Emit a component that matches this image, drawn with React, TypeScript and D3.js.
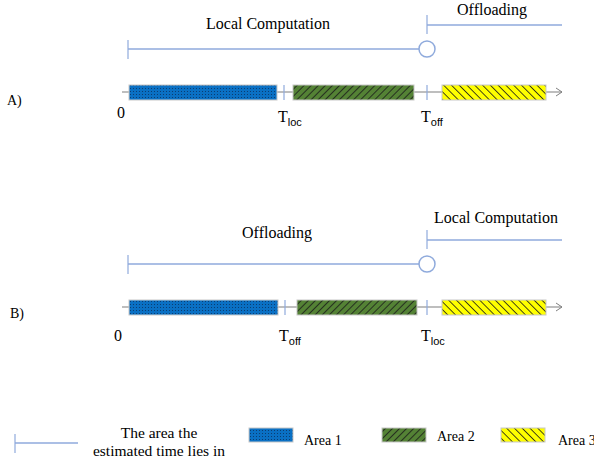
import React from "react";
import * as d3 from "d3";

// ---- data ----
const panelLabels = ["A)", "B)"];
const leftLabels = ["Local Computation", "Offloading"];
const rightLabels = ["Offloading", "Local Computation"];
const thresholdSubs = [["loc", "off"], ["off", "loc"]];
const thresholdsA = [162, 305];
const thresholdsB = [163, 305];
const areaStartsA = [7, 171, 320];
const areaEndsA = [155, 292, 424];
const areaStartsB = [7, 175, 320];
const areaEndsB = [156, 295, 424];
const areaNames = ["Area 1", "Area 2", "Area 3"];
const axisMax = 440;
const legendText = ["The area the", "estimated time lies in"];

const W = 594;
const H = 464;
const FONT = "'Liberation Serif', 'Times New Roman', serif";
const LINE = "#8faadc";
const AXIS = "#7f7f7f";
const BORDER = "#c8c8c8";
const patternIds = ["pDots", "pGreen", "pYellow"];

const x = d3.scaleLinear().domain([0, axisMax]).range([122, 562]);

function Panel({ idx, oy }: { idx: number; oy: number }) {
  const th = idx === 0 ? thresholdsA : thresholdsB;
  const starts = idx === 0 ? areaStartsA : areaStartsB;
  const ends = idx === 0 ? areaEndsA : areaEndsB;
  const axisY = oy + 92;
  const circY = oy + 49;
  const brY = oy + 25;
  const xs = x(starts[0]) - 1;
  const xc = x(th[1]);
  return (
    <g>
      {/* top labels */}
      <text x={268 + (idx === 1 ? 9 : 0)} y={oy + (idx === 0 ? 29 : 23)} textAnchor="middle" fontSize={16} fontFamily={FONT}>
        {leftLabels[idx]}
      </text>
      <text x={idx === 0 ? 492 : 496} y={oy + (idx === 0 ? 15 : 8)} textAnchor="middle" fontSize={16} fontFamily={FONT}>
        {rightLabels[idx]}
      </text>
      {/* left range bracket */}
      <line x1={xs} x2={xs} y1={circY - 9} y2={circY + 10} stroke={LINE} strokeWidth={1.2} />
      <line x1={xs} x2={xc - 8} y1={circY} y2={circY} stroke={LINE} strokeWidth={1.5} />
      <circle cx={xc} cy={circY} r={8} fill="#fff" stroke={LINE} strokeWidth={1.5} />
      {/* right range bracket */}
      <line x1={xc} x2={xc} y1={brY - 10} y2={brY + 9} stroke={LINE} strokeWidth={1.2} />
      <line x1={xc} x2={x(axisMax)} y1={brY} y2={brY} stroke={LINE} strokeWidth={1.5} />
      {/* axis */}
      <line x1={x(0)} x2={x(axisMax)} y1={axisY} y2={axisY} stroke={AXIS} strokeWidth={1.2} />
      <path
        d={`M${x(axisMax) - 6},${axisY - 4} L${x(axisMax)},${axisY} L${x(axisMax) - 6},${axisY + 4}`}
        fill="none"
        stroke={AXIS}
        strokeWidth={1}
      />
      {th.map((t, i) => (
        <line key={i} x1={x(t)} x2={x(t)} y1={axisY - 7} y2={axisY + 8} stroke={LINE} strokeWidth={1.2} />
      ))}
      {starts.map((s, i) => (
        <rect
          key={i}
          x={x(s)}
          y={axisY - 7}
          width={x(ends[i]) - x(s)}
          height={15}
          fill={`url(#${patternIds[i]})`}
          stroke={BORDER}
          strokeWidth={1}
        />
      ))}
      {/* labels */}
      <text x={7 + idx * 3} y={axisY + 13 - idx * 2} fontSize={14} fontFamily={FONT}>
        {panelLabels[idx]}
      </text>
      <text x={x(0) - 1 - idx * 3} y={axisY + 26 + idx * 8} textAnchor="middle" fontSize={16} fontFamily={FONT}>
        0
      </text>
      {th.map((t, i) => (
        <text key={i} x={x(t) - 6} y={axisY + 30 + idx * 4} fontSize={16} fontFamily={FONT}>
          T
          <tspan dy={4} fontSize={11} fontFamily="'Liberation Sans', Arial, sans-serif">
            {thresholdSubs[idx][i]}
          </tspan>
        </text>
      ))}
    </g>
  );
}

export default function App() {
  const legendRects = [249, 382, 501];
  const legendLabelX = [304, 437, 558];
  const legendLabelY = [445, 441, 445];
  return (
    <svg width={W} height={H} style={{ position: "absolute", left: 0, top: 0, background: "#fff" }}>
      <defs>
        <pattern id="pDots" width={3} height={3} patternUnits="userSpaceOnUse">
          <rect width={3} height={3} fill="#0a70c4" />
          <rect x={1} y={1} width={1} height={1} fill="#0b3e73" />
        </pattern>
        <pattern id="pGreen" width={5} height={5} patternUnits="userSpaceOnUse" patternTransform="rotate(45)">
          <rect width={5} height={5} fill="#548235" />
          <line x1={0} y1={0} x2={0} y2={5} stroke="#1a1a1a" strokeWidth={1.6} />
        </pattern>
        <pattern id="pYellow" width={5.5} height={5.5} patternUnits="userSpaceOnUse" patternTransform="rotate(-45)">
          <rect width={5.5} height={5.5} fill="#ffff00" />
          <line x1={0} y1={0} x2={0} y2={5.5} stroke="#1a1a1a" strokeWidth={1.6} />
        </pattern>
      </defs>
      <rect width={W} height={H} fill="#fff" />
      <Panel idx={0} oy={0} />
      <Panel idx={1} oy={215} />
      {/* legend */}
      <line x1={15} x2={15} y1={434} y2={453} stroke={LINE} strokeWidth={1.2} />
      <line x1={15} x2={78} y1={443} y2={443} stroke={LINE} strokeWidth={1.5} />
      <text x={159} y={438} textAnchor="middle" fontSize={15.5} fontFamily={FONT}>
        {legendText[0]}
      </text>
      <text x={159} y={456} textAnchor="middle" fontSize={15.5} fontFamily={FONT}>
        {legendText[1]}
      </text>
      {areaNames.map((n, i) => (
        <g key={n}>
          <rect x={legendRects[i]} y={428} width={44} height={14} fill={`url(#${patternIds[i]})`} stroke={BORDER} strokeWidth={1} />
          <text x={legendLabelX[i]} y={legendLabelY[i]} fontSize={14} fontFamily={FONT}>
            {n}
          </text>
        </g>
      ))}
    </svg>
  );
}
